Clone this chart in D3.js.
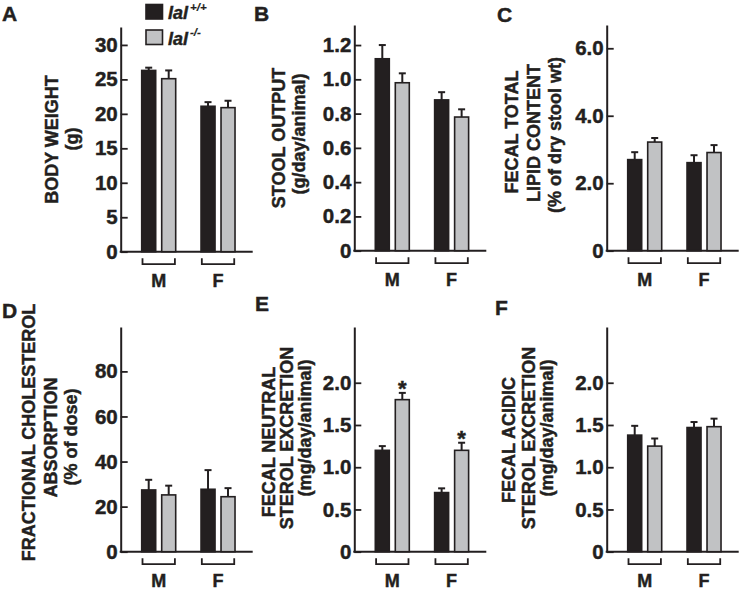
<!DOCTYPE html>
<html><head><meta charset="utf-8">
<script src="https://cdn.jsdelivr.net/npm/d3@7"></script>
<style>
body{margin:0;background:#fff}
svg{display:block}
text{font-family:"Liberation Sans",Arial,Helvetica,sans-serif;fill:#231f20;font-weight:bold;stroke:#231f20;stroke-width:0.45px}
</style>
</head><body><svg id="c" width="741" height="594"></svg>
<script>
// ---- data ----
const categories = ["M", "F"];
const genotypes = ["lal+/+", "lal-/-"];

const bodyWeightWT = [26.3, 21.1], bodyWeightWTErr = [0.4, 0.6];
const bodyWeightKO = [25.1, 20.9], bodyWeightKOErr = [1.2, 1.0];

const stoolWT = [1.12, 0.88], stoolWTErr = [0.08, 0.045];
const stoolKO = [0.98, 0.78], stoolKOErr = [0.055, 0.045];

const lipidWT = [2.70, 2.61], lipidWTErr = [0.22, 0.22];
const lipidKO = [3.22, 2.91], lipidKOErr = [0.12, 0.22];

const absorptionWT = [27.4, 27.7], absorptionWTErr = [4.5, 8.5];
const absorptionKO = [25.2, 24.4], absorptionKOErr = [4.1, 3.8];

const neutralWT = [1.20, 0.70], neutralWTErr = [0.05, 0.05];
const neutralKO = [1.80, 1.20], neutralKOErr = [0.08, 0.09];
const neutralKOSignificant = [true, true];

const acidicWT = [1.38, 1.47], acidicWTErr = [0.11, 0.065];
const acidicKO = [1.25, 1.48], acidicKOErr = [0.09, 0.095];

const ticksA = [0, 5, 10, 15, 20, 25, 30], tickLabelsA = ["0", "5", "10", "15", "20", "25", "30"];
const ticksB = [0, 0.2, 0.4, 0.6, 0.8, 1.0, 1.2], tickLabelsB = ["0", "0.2", "0.4", "0.6", "0.8", "1.0", "1.2"];
const ticksC = [0, 2, 4, 6], tickLabelsC = ["0", "2.0", "4.0", "6.0"];
const ticksD = [0, 20, 40, 60, 80], tickLabelsD = ["0", "20", "40", "60", "80"];
const ticksE = [0, 0.5, 1.0, 1.5, 2.0], tickLabelsE = ["0", "0.5", "1.0", "1.5", "2.0"];
const ticksF = [0, 0.5, 1.0, 1.5, 2.0], tickLabelsF = ["0", "0.5", "1.0", "1.5", "2.0"];

// ---- panels ----
const panels = [
  {letter: "A", wt: bodyWeightWT, wtErr: bodyWeightWTErr, ko: bodyWeightKO, koErr: bodyWeightKOErr,
   max: 32.6, ticks: ticksA, labels: tickLabelsA,
   ax: 120.7, top: 27, base: 251.7, lp: [2, 21],
   title: [["BODY WEIGHT", 57.5, 139.5], ["(g)", 78, 139]]},
  {letter: "B", wt: stoolWT, wtErr: stoolWTErr, ko: stoolKO, koErr: stoolKOErr,
   max: 1.317, ticks: ticksB, labels: tickLabelsB,
   ax: 354.3, top: 25, base: 250.7, lp: [254, 20.5],
   title: [["STOOL OUTPUT", 285, 138], ["(g/day/animal)", 305, 134]]},
  {letter: "C", wt: lipidWT, wtErr: lipidWTErr, ko: lipidKO, koErr: lipidKOErr,
   max: 6.69, ticks: ticksC, labels: tickLabelsC,
   ax: 606.7, top: 25, base: 250.7, lp: [497, 21.5],
   title: [["FECAL TOTAL", 518, 132], ["LIPID CONTENT", 540, 133], ["(% of dry stool wt)", 561, 135]]},
  {letter: "D", wt: absorptionWT, wtErr: absorptionWTErr, ko: absorptionKO, koErr: absorptionKOErr,
   max: 99.7, ticks: ticksD, labels: tickLabelsD,
   ax: 120.7, top: 327, base: 551.7, lp: [2, 318],
   title: [["FRACTIONAL CHOLESTEROL", 35, 432.5], ["ABSORPTION", 56.7, 437.5], ["(% of dose)", 77, 437]]},
  {letter: "E", wt: neutralWT, wtErr: neutralWTErr, ko: neutralKO, koErr: neutralKOErr, sig: neutralKOSignificant,
   max: 2.66, ticks: ticksE, labels: tickLabelsE,
   ax: 354.3, top: 327, base: 551.7, lp: [255, 311],
   title: [["FECAL NEUTRAL", 275, 442], ["STEROL EXCRETION", 293.3, 438], ["(mg/day/animal)", 311, 428]]},
  {letter: "F", wt: acidicWT, wtErr: acidicWTErr, ko: acidicKO, koErr: acidicKOErr,
   max: 2.66, ticks: ticksF, labels: tickLabelsF,
   ax: 606.7, top: 327, base: 551.7, lp: [495, 315],
   title: [["FECAL ACIDIC", 515, 440], ["STEROL EXCRETION", 535, 438], ["(mg/day/animal)", 553, 428]]}
];

const INK = "#231f20", GREY = "#c1c2c4";
const fills = {"lal+/+": INK, "lal-/-": GREY};
const svg = d3.select("#c");
const AXW = 132;

panels.forEach(p => {
  const g = svg.append("g");
  const y = d3.scaleLinear().domain([0, p.max]).range([p.base, p.top]);
  const x0 = d3.scaleBand().domain(categories).range([p.ax, p.ax + AXW])
    .paddingInner(0.427).paddingOuter(0.326).align(0.543);
  const x1 = d3.scaleBand().domain(genotypes).range([0, x0.bandwidth()]).paddingInner(0.3);

  // y axis
  const axis = d3.axisLeft(y).tickValues(p.ticks)
    .tickFormat((d, i) => p.labels[i]).tickSizeInner(-7).tickSizeOuter(0).tickPadding(3);
  const ag = g.append("g").attr("transform", `translate(${p.ax},0)`).call(axis);
  ag.select(".domain").attr("stroke", INK).attr("stroke-width", 2);
  ag.selectAll(".tick line").attr("stroke", INK).attr("stroke-width", 1.8);
  ag.selectAll(".tick text").attr("font-size", 20.5).attr("font-family", null)
    .attr("font-weight", "bold").attr("fill", INK);

  // baseline
  g.append("line").attr("x1", p.ax - 1).attr("x2", p.ax + AXW).attr("y1", p.base).attr("y2", p.base)
    .attr("stroke", INK).attr("stroke-width", 2);

  // bars
  const rows = categories.map((c, i) => ({
    cat: c,
    vals: [
      {gen: genotypes[0], v: p.wt[i], e: p.wtErr[i], sig: false},
      {gen: genotypes[1], v: p.ko[i], e: p.koErr[i], sig: p.sig ? p.sig[i] : false}
    ]
  }));
  const grp = g.selectAll(".grp").data(rows).enter().append("g")
    .attr("transform", d => `translate(${x0(d.cat)},0)`);

  const bar = grp.selectAll(".bar").data(d => d.vals).enter().append("g");
  // error bars (upward only)
  bar.append("line")
    .attr("x1", d => x1(d.gen) + x1.bandwidth() / 2).attr("x2", d => x1(d.gen) + x1.bandwidth() / 2)
    .attr("y1", d => y(d.v)).attr("y2", d => y(d.v + d.e))
    .attr("stroke", INK).attr("stroke-width", 2);
  bar.append("line")
    .attr("x1", d => x1(d.gen) + x1.bandwidth() / 2 - 3.5).attr("x2", d => x1(d.gen) + x1.bandwidth() / 2 + 3.5)
    .attr("y1", d => y(d.v + d.e)).attr("y2", d => y(d.v + d.e))
    .attr("stroke", INK).attr("stroke-width", 2);
  bar.append("rect")
    .attr("x", d => x1(d.gen)).attr("width", x1.bandwidth())
    .attr("y", d => y(d.v)).attr("height", d => y(0) - y(d.v))
    .attr("fill", d => fills[d.gen]).attr("stroke", INK).attr("stroke-width", 1.6);
  bar.filter(d => d.sig).append("text")
    .attr("x", d => x1(d.gen) + x1.bandwidth() / 2).attr("y", d => y(d.v + d.e) + 3)
    .attr("text-anchor", "middle").attr("font-size", 22).text("*");

  // group brackets and labels
  grp.append("path")
    .attr("d", `M0.8,${p.base + 6.5}V${p.base + 12.5}H${x0.bandwidth() - 0.8}V${p.base + 6.5}`)
    .attr("fill", "none").attr("stroke", INK).attr("stroke-width", 1.8);
  grp.append("text").attr("x", x0.bandwidth() / 2).attr("y", p.base + 35)
    .attr("text-anchor", "middle").attr("font-size", 18).text(d => d.cat);

  // axis title
  p.title.forEach(([t, tx, ty]) => {
    g.append("text").attr("transform", `translate(${tx},${ty}) rotate(-90)`)
      .attr("text-anchor", "middle").attr("font-size", 18).text(t);
  });

  // panel letter
  g.append("text").attr("x", p.lp[0]).attr("y", p.lp[1]).attr("font-size", 21).text(p.letter);
});

// legend
const leg = svg.append("g");
const legRows = [{gen: genotypes[0], sup: "+/+", y: 4.5}, {gen: genotypes[1], sup: "-/-", y: 30}];
legRows.forEach(r => {
  leg.append("rect").attr("x", 146).attr("y", r.y).attr("width", 16.5).attr("height", 14.5)
    .attr("fill", fills[r.gen]).attr("stroke", INK).attr("stroke-width", 1.6);
  const t = leg.append("text").attr("x", 168).attr("y", r.y + 14.5).attr("font-size", 18).attr("font-style", "italic");
  t.append("tspan").text("lal");
  t.append("tspan").attr("dx", 2).attr("dy", -8.5).attr("font-size", 11.5).attr("stroke-width", 0.2).text(r.sup);
});
</script>
</body></html>
